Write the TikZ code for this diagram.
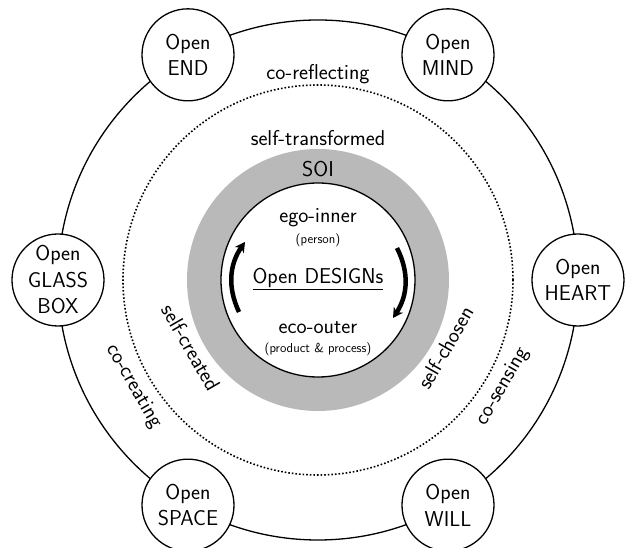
\documentclass[tikz,border=0pt]{standalone}
\usepackage{tikz}
\usetikzlibrary{arrows.meta}
\usetikzlibrary{positioning}
\renewcommand{\familydefault}{\sfdefault}
\tikzset{opennode/.style = {draw, circle, fill=white, line width=1.3pt, minimum size=92pt, inner sep=0, align=center, font=\fontsize{21.5}{26.5}\selectfont}}
\tikzset{ringlabel/.style = {font=\fontsize{21.5}{24}\selectfont}}
\tikzset{smalllabel/.style = {font=\fontsize{13}{15}\selectfont}}
\tikzset{turnarrow/.style = {line width=4.5pt, -{Stealth[length=10pt,width=11pt]}}}

\begin{document}
\begin{tikzpicture}[x=1pt, y=1pt]
  \useasboundingbox (-318,-268) rectangle (307,280);
  \draw[line width=1.3pt] (0,0) circle[radius=260pt];
  \draw[dotted, line width=1.6pt] (0,0) circle[radius=195pt];
  \fill[gray!55] (0,0) circle[radius=131pt];
  \draw[fill=white, line width=1.3pt] (0,0) circle[radius=97pt];
  \foreach \a/\n/\t in {120/end/{Open\\END}, 60/mind/{Open\\MIND}, 0/heart/{Open\\HEART},
                        -60/will/{Open\\WILL}, -120/space/{Open\\SPACE}, 180/glass/{Open\\GLASS\\BOX}} {
    \node[opennode] (\n) at (\a:260) {\t};
  }
  \node[ringlabel, anchor=base] (coreflect) at (0,200) {co-reflecting};
  \node[ringlabel, anchor=base] (selftrans) at (0,134) {self-transformed};
  \node[ringlabel, anchor=base] (soi) at (0,103) {SOI};
  \node[ringlabel, rotate=-60] (cocreate) at (210:213) {co-creating};
  \node[ringlabel, rotate=60] (cosense) at (330:213) {co-sensing};
  \node[ringlabel, rotate=-60] (selfcreate) at (208:144) {self-created};
  \node[ringlabel, rotate=60] (selfchose) at (332:144) {self-chosen};
  \node[ringlabel, anchor=base] (ego) at (0,57) {ego-inner};
  \node[smalllabel, anchor=base] (person) at (0,36) {(person)};
  \node[ringlabel, anchor=base] (designs) at (0,-4) {\underline{Open DESIGNs}};
  \node[ringlabel, anchor=base] (eco) at (0,-54) {eco-outer};
  \node[smalllabel, anchor=base] (product) at (0,-73) {(product \& process)};
  \coordinate (lefttail) at (-79,-32);
  \coordinate (lefthead) at (-73,38);
  \coordinate (righttail) at (79,32);
  \coordinate (righthead) at (75,-38);
  \draw[turnarrow] (lefttail) to[bend left=30] (lefthead);
  \draw[turnarrow] (righttail) to[bend left=30] (righthead);
\end{tikzpicture}
\end{document}
